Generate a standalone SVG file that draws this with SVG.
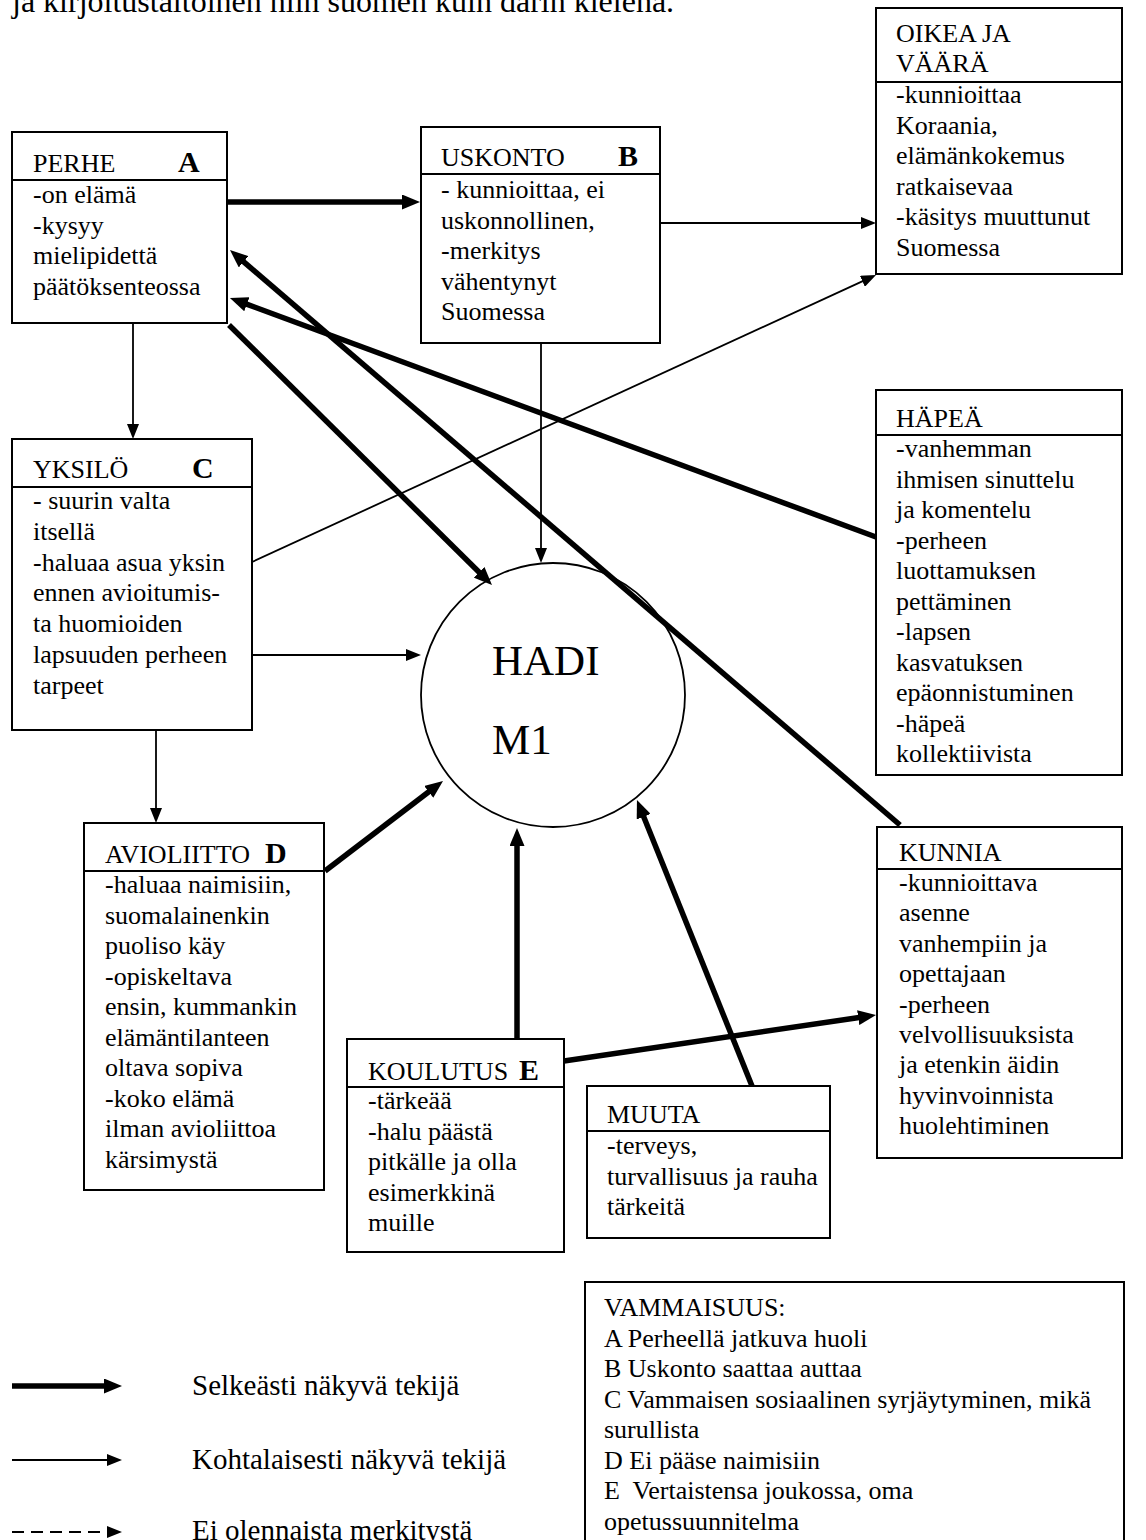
<svg xmlns="http://www.w3.org/2000/svg" width="1146" height="1540" viewBox="0 0 1146 1540">
  <style>
    .bg { fill: #ffffff; }
    .box { fill: #ffffff; stroke: #000000; stroke-width: 2; }
    .div { stroke: #000000; stroke-width: 2; fill: none; }
    .t { font-family: "Liberation Serif", "Times New Roman", serif; font-size: 26px; fill: #000000; }
    .hb { font-family: "Liberation Serif", "Times New Roman", serif; font-size: 30px; font-weight: bold; fill: #000000; }
    .big { font-family: "Liberation Serif", "Times New Roman", serif; font-size: 43px; fill: #000000; }
    .leg { font-family: "Liberation Serif", "Times New Roman", serif; font-size: 29px; fill: #000000; }
    .top { font-family: "Liberation Serif", "Times New Roman", serif; font-size: 32px; fill: #000000; }
    .thick { stroke: #000000; stroke-width: 5.5; fill: none; marker-end: url(#hThick); }
    .thin { stroke: #000000; stroke-width: 1.8; fill: none; marker-end: url(#hThin); }
    .dash { stroke: #000000; stroke-width: 1.8; fill: none; stroke-dasharray: 12 7; marker-end: url(#hThin); }
  </style>
  <defs>
    <marker id="hThick" viewBox="0 0 18 15" refX="1" refY="7.5" markerWidth="18" markerHeight="15" markerUnits="userSpaceOnUse" orient="auto">
      <path d="M0,0 L18,7.5 L0,15 z" fill="#000000"/>
    </marker>
    <marker id="hThin" viewBox="0 0 15 12" refX="1" refY="6" markerWidth="15" markerHeight="12" markerUnits="userSpaceOnUse" orient="auto">
      <path d="M0,0 L15,6 L0,12 z" fill="#000000"/>
    </marker>
  </defs>

  <rect class="bg" x="0" y="0" width="1146" height="1540"/>

  <!-- running text line cut at the page top -->
  <text class="top" x="12" y="12">ja kirjoitustaitoinen niin suomen kuin darin kielenä.</text>

  <!-- nodes -->
  <g id="perhe">
    <rect class="box" x="12" y="132" width="215" height="191"/>
    <line class="div" x1="12" y1="180" x2="227" y2="180"/>
    <text class="t" x="33" y="172">PERHE</text>
    <text class="hb" x="178" y="172">A</text>
    <text class="t" x="33" y="203">-on elämä<tspan x="33" dy="30.5">-kysyy</tspan><tspan x="33" dy="30.5">mielipidettä</tspan><tspan x="33" dy="30.5">päätöksenteossa</tspan></text>
  </g>

  <g id="uskonto">
    <rect class="box" x="421" y="127" width="239" height="216"/>
    <line class="div" x1="421" y1="174" x2="660" y2="174"/>
    <text class="t" x="441" y="166">USKONTO</text>
    <text class="hb" x="618" y="166">B</text>
    <text class="t" x="441" y="198">- kunnioittaa, ei<tspan x="441" dy="30.5">uskonnollinen,</tspan><tspan x="441" dy="30.5">-merkitys</tspan><tspan x="441" dy="30.5">vähentynyt</tspan><tspan x="441" dy="30.5">Suomessa</tspan></text>
  </g>

  <g id="oikea-ja-vaara">
    <rect class="box" x="876" y="8" width="246" height="266"/>
    <line class="div" x1="876" y1="82" x2="1122" y2="82"/>
    <text class="t" x="896" y="42">OIKEA JA<tspan x="896" dy="30">VÄÄRÄ</tspan></text>
    <text class="t" x="896" y="103">-kunnioittaa<tspan x="896" dy="30.5">Koraania,</tspan><tspan x="896" dy="30.5">elämänkokemus</tspan><tspan x="896" dy="30.5">ratkaisevaa</tspan><tspan x="896" dy="30.5">-käsitys muuttunut</tspan><tspan x="896" dy="30.5">Suomessa</tspan></text>
  </g>

  <g id="hapea">
    <rect class="box" x="876" y="390" width="246" height="385"/>
    <line class="div" x1="876" y1="435" x2="1122" y2="435"/>
    <text class="t" x="896" y="427">HÄPEÄ</text>
    <text class="t" x="896" y="457">-vanhemman<tspan x="896" dy="30.5">ihmisen sinuttelu</tspan><tspan x="896" dy="30.5">ja komentelu</tspan><tspan x="896" dy="30.5">-perheen</tspan><tspan x="896" dy="30.5">luottamuksen</tspan><tspan x="896" dy="30.5">pettäminen</tspan><tspan x="896" dy="30.5">-lapsen</tspan><tspan x="896" dy="30.5">kasvatuksen</tspan><tspan x="896" dy="30.5">epäonnistuminen</tspan><tspan x="896" dy="30.5">-häpeä</tspan><tspan x="896" dy="30.5">kollektiivista</tspan></text>
  </g>

  <g id="yksilo">
    <rect class="box" x="12" y="439" width="240" height="291"/>
    <line class="div" x1="12" y1="487" x2="252" y2="487"/>
    <text class="t" x="33" y="478">YKSILÖ</text>
    <text class="hb" x="192" y="478">C</text>
    <text class="t" x="33" y="509">- suurin valta<tspan x="33" dy="30.8">itsellä</tspan><tspan x="33" dy="30.8">-haluaa asua yksin</tspan><tspan x="33" dy="30.8">ennen avioitumis-</tspan><tspan x="33" dy="30.8">ta huomioiden</tspan><tspan x="33" dy="30.8">lapsuuden perheen</tspan><tspan x="33" dy="30.8">tarpeet</tspan></text>
  </g>

  <g id="hadi">
    <circle cx="553" cy="695" r="132" fill="#ffffff" stroke="#000000" stroke-width="1.8"/>
    <text class="big" x="492" y="675">HADI</text>
    <text class="big" x="492" y="754">M1</text>
  </g>

  <g id="avioliitto">
    <rect class="box" x="84" y="823" width="240" height="367"/>
    <line class="div" x1="84" y1="871" x2="324" y2="871"/>
    <text class="t" x="105" y="863">AVIOLIITTO</text>
    <text class="hb" x="265" y="863">D</text>
    <text class="t" x="105" y="893">-haluaa naimisiin,<tspan x="105" dy="30.5">suomalainenkin</tspan><tspan x="105" dy="30.5">puoliso käy</tspan><tspan x="105" dy="30.5">-opiskeltava</tspan><tspan x="105" dy="30.5">ensin, kummankin</tspan><tspan x="105" dy="30.5">elämäntilanteen</tspan><tspan x="105" dy="30.5">oltava sopiva</tspan><tspan x="105" dy="30.5">-koko elämä</tspan><tspan x="105" dy="30.5">ilman avioliittoa</tspan><tspan x="105" dy="30.5">kärsimystä</tspan></text>
  </g>

  <g id="kunnia">
    <rect class="box" x="877" y="827" width="245" height="331"/>
    <line class="div" x1="877" y1="869" x2="1122" y2="869"/>
    <text class="t" x="899" y="861">KUNNIA</text>
    <text class="t" x="899" y="891">-kunnioittava<tspan x="899" dy="30.4">asenne</tspan><tspan x="899" dy="30.4">vanhempiin ja</tspan><tspan x="899" dy="30.4">opettajaan</tspan><tspan x="899" dy="30.4">-perheen</tspan><tspan x="899" dy="30.4">velvollisuuksista</tspan><tspan x="899" dy="30.4">ja etenkin äidin</tspan><tspan x="899" dy="30.4">hyvinvoinnista</tspan><tspan x="899" dy="30.4">huolehtiminen</tspan></text>
  </g>

  <g id="koulutus">
    <rect class="box" x="347" y="1039" width="217" height="213"/>
    <line class="div" x1="347" y1="1087" x2="564" y2="1087"/>
    <text class="t" x="368" y="1080">KOULUTUS</text>
    <text class="hb" x="519" y="1080">E</text>
    <text class="t" x="368" y="1109">-tärkeää<tspan x="368" dy="30.5">-halu päästä</tspan><tspan x="368" dy="30.5">pitkälle ja olla</tspan><tspan x="368" dy="30.5">esimerkkinä</tspan><tspan x="368" dy="30.5">muille</tspan></text>
  </g>

  <g id="muuta">
    <rect class="box" x="587" y="1086" width="243" height="152"/>
    <line class="div" x1="587" y1="1131" x2="830" y2="1131"/>
    <text class="t" x="607" y="1123">MUUTA</text>
    <text class="t" x="607" y="1154">-terveys,<tspan x="607" dy="30.5">turvallisuus ja rauha</tspan><tspan x="607" dy="30.5">tärkeitä</tspan></text>
  </g>

  <g id="vammaisuus">
    <rect class="box" x="585" y="1282" width="539" height="290"/>
    <text class="t" x="604" y="1316">VAMMAISUUS:<tspan x="604" dy="30.5">A Perheellä jatkuva huoli</tspan><tspan x="604" dy="30.5">B Uskonto saattaa auttaa</tspan><tspan x="604" dy="30.5">C Vammaisen sosiaalinen syrjäytyminen, mikä</tspan><tspan x="604" dy="30.5">surullista</tspan><tspan x="604" dy="30.5">D Ei pääse naimisiin</tspan><tspan x="604" dy="30.5" xml:space="preserve">E  Vertaistensa joukossa, oma</tspan><tspan x="604" dy="30.5">opetussuunnitelma</tspan></text>
  </g>

  <!-- connectors -->
  <g id="connectors">
    <!-- clearly visible factors -->
    <line class="thick" x1="228" y1="202" x2="403" y2="202"/>
    <line class="thick" x1="229" y1="325" x2="479.9" y2="573"/>
    <line class="thick" x1="900" y1="825" x2="242.9" y2="261.1"/>
    <line class="thick" x1="876" y1="537" x2="245.9" y2="303.9"/>
    <line class="thick" x1="325" y1="871" x2="429.5" y2="791.3"/>
    <line class="thick" x1="517" y1="1039" x2="517" y2="845"/>
    <line class="thick" x1="564" y1="1061" x2="859.2" y2="1017.5"/>
    <line class="thick" x1="752" y1="1086" x2="643.3" y2="815.8"/>
    <!-- moderately visible factors -->
    <line class="thin" x1="660" y1="223" x2="862" y2="223"/>
    <line class="thin" x1="541" y1="343" x2="541" y2="549"/>
    <line class="thin" x1="133" y1="323" x2="133" y2="425"/>
    <line class="thin" x1="252" y1="562" x2="863.3" y2="280.9"/>
    <line class="thin" x1="252" y1="655" x2="407" y2="655"/>
    <line class="thin" x1="156" y1="730" x2="156" y2="809"/>
  </g>

  <!-- legend -->
  <g id="legend">
    <line class="thick" x1="12" y1="1386" x2="105" y2="1386"/>
    <text class="leg" x="192" y="1395">Selkeästi näkyvä tekijä</text>
    <line class="thin" x1="12" y1="1460" x2="108" y2="1460"/>
    <text class="leg" x="192" y="1469">Kohtalaisesti näkyvä tekijä</text>
    <line class="dash" x1="12" y1="1532" x2="108" y2="1532"/>
    <text class="leg" x="192" y="1540">Ei olennaista merkitystä</text>
  </g>
</svg>
